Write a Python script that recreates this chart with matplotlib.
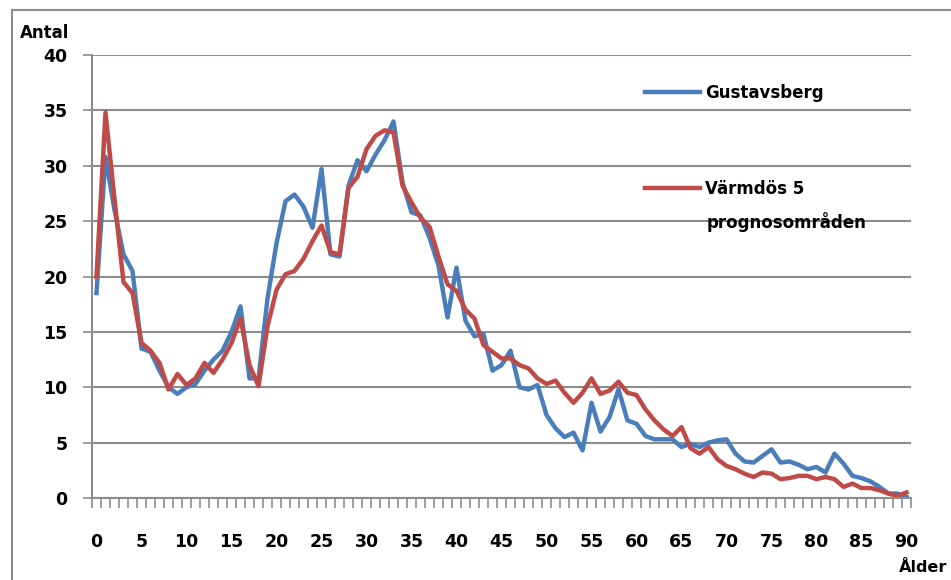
import matplotlib
matplotlib.use('Agg')
import matplotlib.pyplot as plt
import numpy as np
from matplotlib.lines import Line2D

# Ålder 0-90
ages = np.arange(0, 91)

gustavsberg = [18.5, 30.8, 26.0, 22.0, 20.5, 13.5, 13.2, 11.5, 10.0, 9.4,
               10.0, 10.3, 11.5, 12.5, 13.3, 15.0, 17.3, 10.8, 10.8, 18.0,
               23.0, 26.8, 27.4, 26.3, 24.4, 29.7, 22.0, 21.8, 28.2, 30.5,
               29.5, 31.0, 32.3, 34.0, 28.5, 25.8, 25.5, 23.5, 21.0, 16.3,
               20.8, 16.0, 14.6, 14.8, 11.5, 12.0, 13.3, 10.0, 9.8, 10.2,
               7.5, 6.3, 5.5, 5.9, 4.3, 8.6, 6.0, 7.3, 9.8, 7.0,
               6.7, 5.6, 5.3, 5.3, 5.3, 4.6, 4.9, 4.6, 5.0, 5.2,
               5.3, 4.0, 3.3, 3.2, 3.8, 4.4, 3.2, 3.3, 3.0, 2.6,
               2.8, 2.3, 4.0, 3.1, 2.0, 1.8, 1.5, 1.0, 0.4, 0.4,
               0.1]

varmdo = [20.0, 34.8, 27.0, 19.5, 18.5, 14.0, 13.3, 12.2, 9.8, 11.2,
          10.2, 10.8, 12.2, 11.3, 12.5, 14.0, 16.2, 12.0, 10.1, 15.5,
          18.8, 20.2, 20.5, 21.6, 23.2, 24.6, 22.2, 22.0, 28.0, 29.0,
          31.5, 32.7, 33.2, 33.0, 28.2, 26.7, 25.3, 24.5, 21.8, 19.3,
          18.7, 17.0, 16.2, 13.8, 13.2, 12.6, 12.6, 12.0, 11.7, 10.8,
          10.3, 10.6, 9.5, 8.6, 9.5, 10.8, 9.4, 9.7, 10.5, 9.5,
          9.3, 8.0, 7.0, 6.2, 5.6, 6.4, 4.5, 4.0, 4.6, 3.5,
          2.9, 2.6, 2.2, 1.9, 2.3, 2.2, 1.7, 1.8, 2.0, 2.0,
          1.7, 1.9, 1.7, 1.0, 1.3, 0.9, 0.9, 0.7, 0.4, 0.2,
          0.5]

x_labels = list(range(0, 91, 5))
y_ticks = list(range(0, 41, 5))

W, H = 951, 580
grey = '#8C8C8C'
blue = '#4A7EBB'
red = '#BE4B48'
font = 'DejaVu Sans'

fig = plt.figure(figsize=(W / 100, H / 100), dpi=100)
ax = fig.add_axes([92 / W, 1 - 498 / H, (911 - 92) / W, (498 - 55) / H])

ax.plot(ages, gustavsberg, color=blue, lw=3.2, label='Gustavsberg')
ax.plot(ages, varmdo, color=red, lw=3.2, label='Värmdös 5')

ax.set_xlim(-0.5, 90.5)
ax.set_ylim(0, 40)

# grid and axes
ax.yaxis.grid(True, color=grey, lw=1.5)
ax.set_axisbelow(True)
for s in ['top', 'right']:
    ax.spines[s].set_visible(False)
for s in ['left', 'bottom']:
    ax.spines[s].set_color(grey)
    ax.spines[s].set_linewidth(1.5)

ax.set_xticks(x_labels)
ax.set_xticklabels([str(v) for v in x_labels], fontsize=12.5, fontweight='bold', family=font)
ax.set_xticks(np.arange(-0.5, 91, 1), minor=True)
ax.tick_params(axis='x', which='major', length=0, pad=25)
ax.tick_params(axis='x', which='minor', length=7.5, width=1.2, color=grey)

ax.set_yticks(y_ticks)
ax.set_yticklabels([str(v) for v in y_ticks], fontsize=12.5, fontweight='bold', family=font)
ax.tick_params(axis='y', length=6.5, width=1.2, color=grey, pad=11)

# axis titles
fig.text(20 / W, 1 - 33 / H, 'Antal', fontsize=12, fontweight='bold', family=font, va='center', ha='left')
fig.text(899 / W, 1 - 567 / H, 'Ålder', fontsize=11.5, fontweight='bold', family=font, va='center', ha='left')

# legend
leg = fig.legend(loc='upper left', bbox_to_anchor=(645 / W, 1 - 84 / H), frameon=False,
                 prop={'family': font, 'size': 12, 'weight': 'bold'}, handlelength=3.3,
                 handletextpad=0.3, labelspacing=4.65, borderpad=0, borderaxespad=0)
fig.text(707 / W, 1 - 222 / H, 'prognosområden', fontsize=12, fontweight='bold',
         family=font, va='center', ha='left')

# outer frame
fig.add_artist(Line2D([12 / W, 12 / W], [0, 1 - 10 / H], transform=fig.transFigure, color=grey, lw=1.5))
fig.add_artist(Line2D([12 / W, 1], [1 - 10 / H, 1 - 10 / H], transform=fig.transFigure, color=grey, lw=1.5))

fig.savefig('out.png', dpi=100)
